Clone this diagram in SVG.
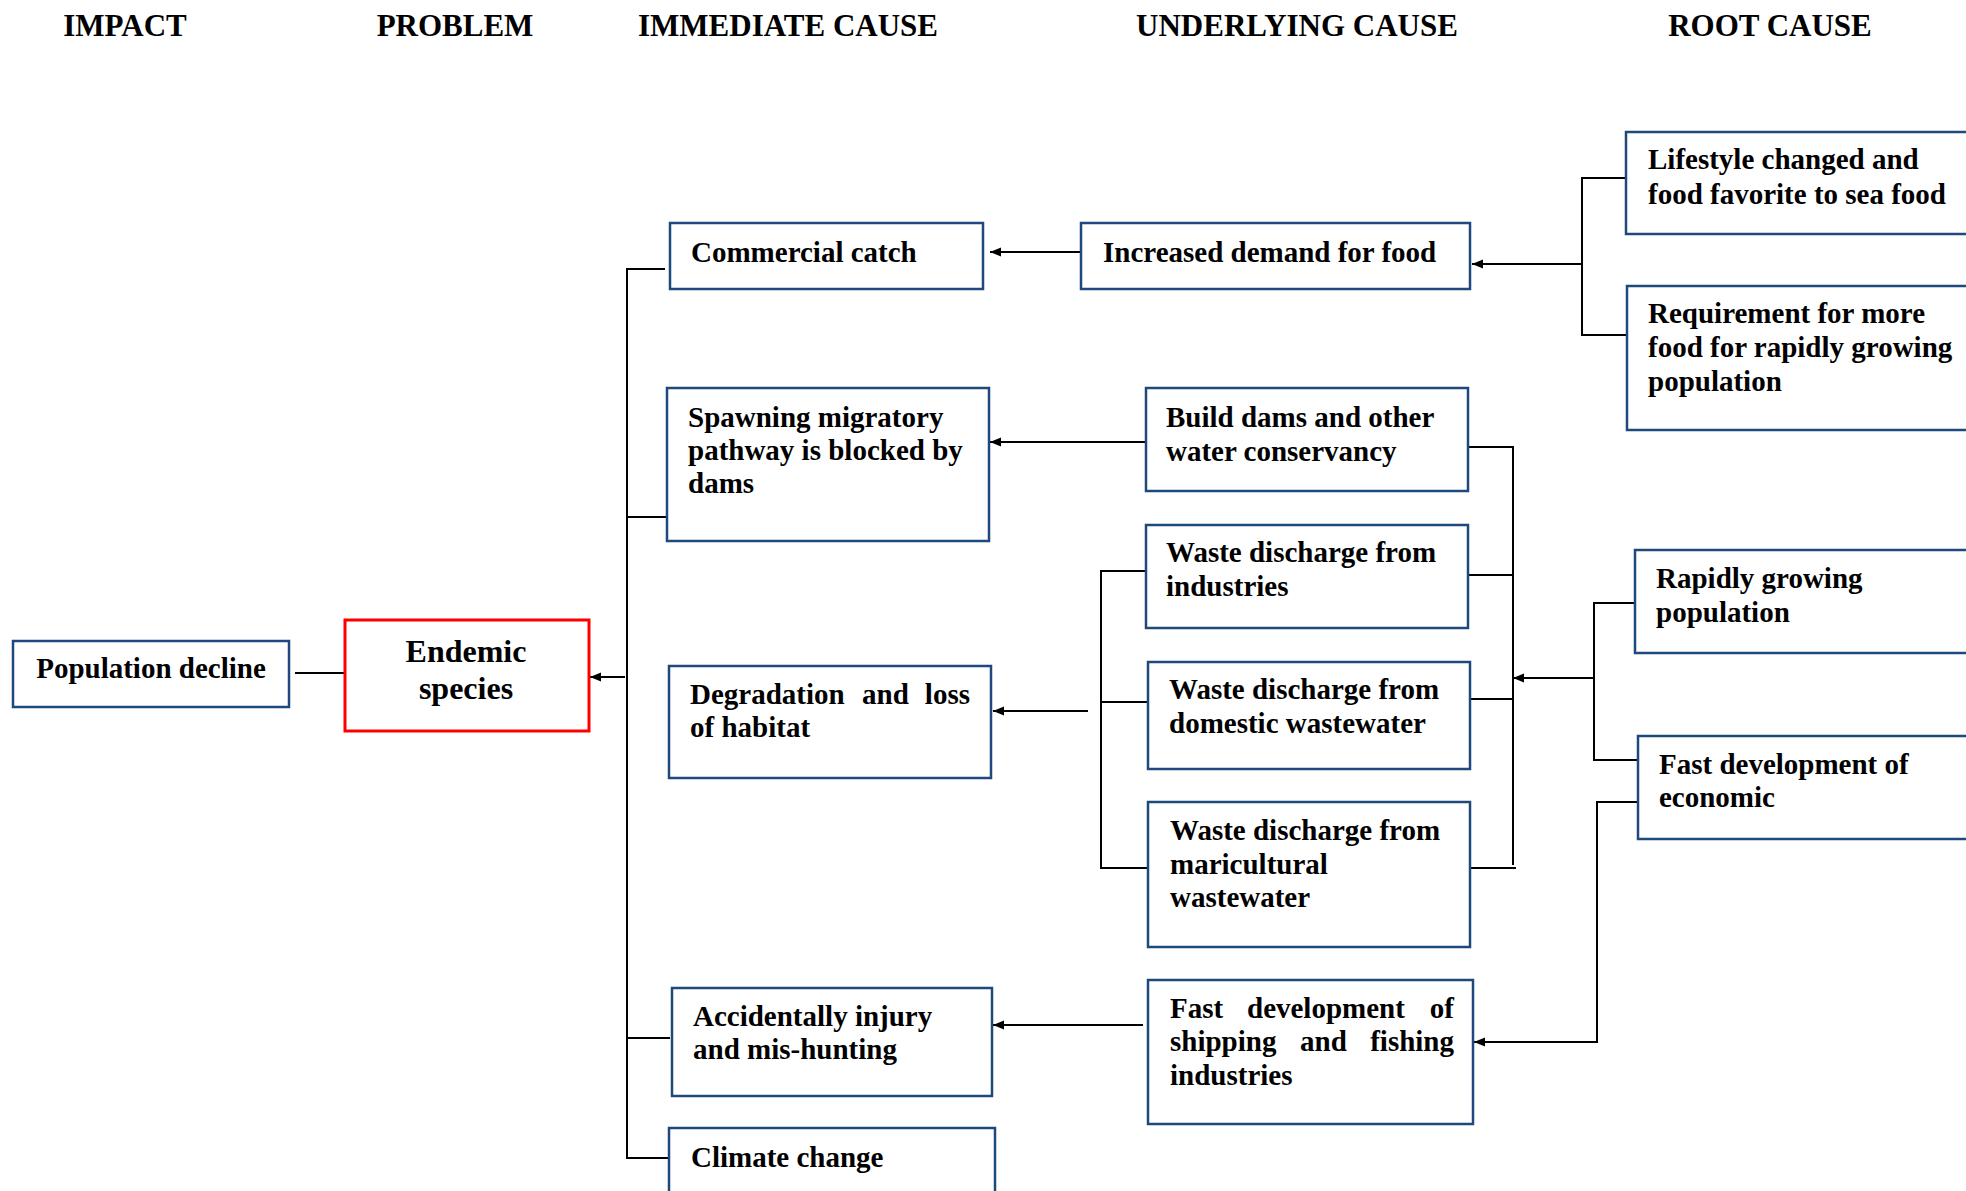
<svg xmlns="http://www.w3.org/2000/svg" width="1966" height="1191" viewBox="0 0 1966 1191">
<style>
  .box { fill: #ffffff; stroke: #1F497D; stroke-width: 2.5; }
  .red { fill: #ffffff; stroke: #ff0000; stroke-width: 3; }
  .t { font-family: "Liberation Serif", "Times New Roman", serif; font-weight: bold; font-size: 29px; fill: #000; }
  .big { font-size: 32px; }
  .hdr { font-family: "Liberation Serif", "Times New Roman", serif; font-weight: bold; font-size: 31px; fill: #000; text-anchor: middle; }
  .c { fill: none; stroke: #000; stroke-width: 2; }
</style>
<defs>
  <marker id="arr" markerUnits="userSpaceOnUse" markerWidth="12" markerHeight="10" refX="11" refY="5" orient="auto">
    <path d="M0,0.5 L11,5 L0,9.5 z" fill="#000"/>
  </marker>
</defs>
<rect width="1966" height="1191" fill="#ffffff"/>

<g id="headers">
  <text class="hdr" x="125" y="36">IMPACT</text>
  <text class="hdr" x="455" y="36">PROBLEM</text>
  <text class="hdr" x="788" y="36">IMMEDIATE CAUSE</text>
  <text class="hdr" x="1297" y="36">UNDERLYING CAUSE</text>
  <text class="hdr" x="1770" y="36">ROOT CAUSE</text>
</g>

<g id="connectors">
  <line class="c" x1="295" y1="673" x2="346" y2="673"/>
  <line class="c" x1="625" y1="677" x2="590" y2="677" marker-end="url(#arr)"/>
  <line class="c" x1="627" y1="268" x2="627" y2="1159"/>
  <line class="c" x1="627" y1="269" x2="665" y2="269"/>
  <line class="c" x1="627" y1="517" x2="667" y2="517"/>
  <line class="c" x1="627" y1="1038" x2="670" y2="1038"/>
  <line class="c" x1="627" y1="1158" x2="669" y2="1158"/>
  <line class="c" x1="1081" y1="252" x2="990" y2="252" marker-end="url(#arr)"/>
  <line class="c" x1="1145" y1="442" x2="990" y2="442" marker-end="url(#arr)"/>
  <line class="c" x1="1088" y1="711" x2="993" y2="711" marker-end="url(#arr)"/>
  <path class="c" d="M1145,571 H1101 V868 H1147"/>
  <line class="c" x1="1101" y1="702" x2="1148" y2="702"/>
  <line class="c" x1="1143" y1="1025" x2="993" y2="1025" marker-end="url(#arr)"/>
  <path class="c" d="M1468,447 H1513 V865"/>
  <line class="c" x1="1468" y1="575" x2="1513" y2="575"/>
  <line class="c" x1="1468" y1="699" x2="1513" y2="699"/>
  <line class="c" x1="1470" y1="868" x2="1516" y2="868"/>
  <line class="c" x1="1594" y1="678" x2="1513" y2="678" marker-end="url(#arr)"/>
  <path class="c" d="M1634,603 H1594 V760 H1638"/>
  <path class="c" d="M1640,802 H1597 V1042 H1474" marker-end="url(#arr)"/>
  <path class="c" d="M1626,178 H1582 V335 H1627"/>
  <line class="c" x1="1582" y1="264" x2="1472" y2="264" marker-end="url(#arr)"/>
</g>

<g id="population-decline">
  <rect class="box" x="13" y="641" width="276" height="66"/>
  <text class="t" x="151" y="678" text-anchor="middle">Population decline</text>
</g>

<g id="endemic-species">
  <rect class="red" x="345" y="620" width="244" height="111"/>
  <text class="t big" x="466" y="662" text-anchor="middle">Endemic</text>
  <text class="t big" x="466" y="699" text-anchor="middle">species</text>
</g>

<g id="commercial-catch">
  <rect class="box" x="670" y="223" width="313" height="66"/>
  <text class="t" x="691" y="262">Commercial catch</text>
</g>

<g id="spawning">
  <rect class="box" x="667" y="388" width="322" height="153"/>
  <text class="t" x="688" y="427">Spawning migratory</text>
  <text class="t" x="688" y="460">pathway is blocked by</text>
  <text class="t" x="688" y="493">dams</text>
</g>

<g id="degradation">
  <rect class="box" x="669" y="666" width="322" height="112"/>
  <text class="t" x="690" y="704">Degradation</text>
  <text class="t" x="862" y="704">and</text>
  <text class="t" x="970" y="704" text-anchor="end">loss</text>
  <text class="t" x="690" y="737">of habitat</text>
</g>

<g id="accidentally">
  <rect class="box" x="672" y="988" width="320" height="108"/>
  <text class="t" x="693" y="1026">Accidentally injury</text>
  <text class="t" x="693" y="1059">and mis-hunting</text>
</g>

<g id="climate-change">
  <rect class="box" x="669" y="1128" width="326" height="80"/>
  <text class="t" x="691" y="1167">Climate change</text>
</g>

<g id="increased-demand">
  <rect class="box" x="1081" y="223" width="389" height="66"/>
  <text class="t" x="1103" y="262">Increased demand for food</text>
</g>

<g id="build-dams">
  <rect class="box" x="1146" y="388" width="322" height="103"/>
  <text class="t" x="1166" y="427">Build dams and other</text>
  <text class="t" x="1166" y="461">water conservancy</text>
</g>

<g id="waste-industries">
  <rect class="box" x="1146" y="525" width="322" height="103"/>
  <text class="t" x="1166" y="562">Waste discharge from</text>
  <text class="t" x="1166" y="596">industries</text>
</g>

<g id="waste-domestic">
  <rect class="box" x="1148" y="662" width="322" height="107"/>
  <text class="t" x="1169" y="699">Waste discharge from</text>
  <text class="t" x="1169" y="733">domestic wastewater</text>
</g>

<g id="waste-maricultural">
  <rect class="box" x="1148" y="802" width="322" height="145"/>
  <text class="t" x="1170" y="840">Waste discharge from</text>
  <text class="t" x="1170" y="874">maricultural</text>
  <text class="t" x="1170" y="907">wastewater</text>
</g>

<g id="fast-shipping">
  <rect class="box" x="1148" y="980" width="325" height="144"/>
  <text class="t" x="1170" y="1018">Fast</text>
  <text class="t" x="1247" y="1018">development</text>
  <text class="t" x="1454" y="1018" text-anchor="end">of</text>
  <text class="t" x="1170" y="1051">shipping</text>
  <text class="t" x="1300" y="1051">and</text>
  <text class="t" x="1454" y="1051" text-anchor="end">fishing</text>
  <text class="t" x="1170" y="1085">industries</text>
</g>

<g id="lifestyle">
  <rect class="box" x="1626" y="132" width="360" height="102"/>
  <text class="t" x="1648" y="169">Lifestyle changed and</text>
  <text class="t" x="1648" y="204">food favorite to sea food</text>
</g>

<g id="requirement">
  <rect class="box" x="1627" y="286" width="360" height="144"/>
  <text class="t" x="1648" y="323">Requirement for more</text>
  <text class="t" x="1648" y="357">food for rapidly growing</text>
  <text class="t" x="1648" y="391">population</text>
</g>

<g id="rapidly-growing">
  <rect class="box" x="1635" y="550" width="360" height="103"/>
  <text class="t" x="1656" y="588">Rapidly growing</text>
  <text class="t" x="1656" y="622">population</text>
</g>

<g id="fast-economic">
  <rect class="box" x="1638" y="736" width="360" height="103"/>
  <text class="t" x="1659" y="774">Fast development of</text>
  <text class="t" x="1659" y="807">economic</text>
</g>
</svg>
